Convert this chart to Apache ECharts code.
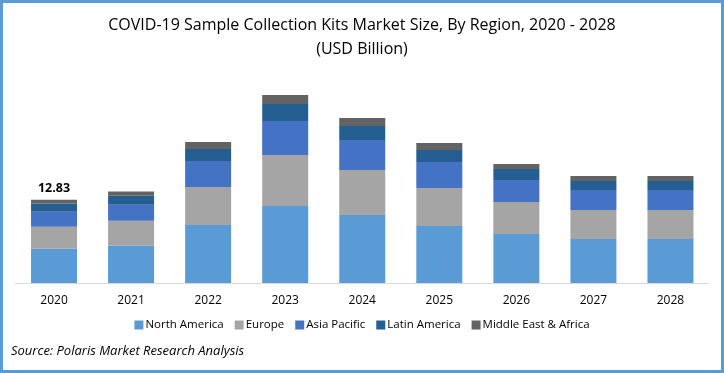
<!DOCTYPE html>
<html><head><meta charset="utf-8">
<script src="https://cdn.jsdelivr.net/npm/echarts@6/dist/echarts.min.js"></script>
<style>
html,body{margin:0;padding:0;background:#fff;}
#wrap{position:absolute;left:0;top:0;width:724px;height:373px;box-sizing:border-box;border:3px solid #5B9BD5;}
#c{position:absolute;left:0;top:0;width:724px;height:373px;}
</style></head>
<body><div id="c"></div><div id="wrap"></div>
<script>
const categories = ['2020','2021','2022','2023','2024','2025','2026','2027','2028'];
const northAmerica = [5.28, 5.75, 8.94, 11.86, 10.48, 8.78, 7.55, 6.78, 6.78];
const europe       = [3.39, 3.85, 5.86, 7.86, 6.93, 5.86, 4.93, 4.47, 4.47];
const asiaPacific  = [2.31, 2.47, 4.01, 5.24, 4.62, 4.01, 3.39, 3.08, 3.08];
const latinAmerica = [1.28, 1.39, 1.85, 2.62, 2.16, 1.85, 1.69, 1.39, 1.39];
const middleEast   = [0.57, 0.62, 1.08, 1.39, 1.23, 1.08, 0.77, 0.77, 0.77];
const totalLabel = '12.83';

const font = '"Open Sans", sans-serif';
const names = ['North America','Europe','Asia Pacific','Latin America','Middle East & Africa'];
const colors = ['#5B9BD5','#A5A5A5','#4472C4','#255E91','#636363'];
const datas = [northAmerica, europe, asiaPacific, latinAmerica, middleEast];

const series = datas.map((d, i) => ({
  name: names[i], type: 'bar', stack: 'total', barWidth: 46,
  itemStyle: { color: colors[i] },
  data: d.map((v, j) => (i === 4 && j === 0) ? {
    value: v,
    label: { show: true, position: 'top', formatter: totalLabel, fontSize: 12.5, fontWeight: 'bold', color: '#000', fontFamily: font, distance: 5 }
  } : v)
}));

const chart = echarts.init(document.getElementById('c'), null, { renderer: 'canvas' });
chart.setOption({
  animation: false,
  title: {
    text: 'COVID-19 Sample Collection Kits Market Size, By Region, 2020 - 2028\n(USD Billion)',
    left: 'center', top: 8,
    textStyle: { fontFamily: font, fontSize: 16, fontWeight: 'normal', color: '#000', lineHeight: 24 }
  },
  legend: {
    data: names, bottom: 37, left: 'center', itemWidth: 9, itemHeight: 9, itemGap: 11, icon: 'rect',
    textStyle: { fontFamily: font, fontSize: 11.5, color: '#000', padding: [0, 0, 0, -3] }
  },
  grid: { left: 15.5, right: 15, top: 88.3, bottom: 90 },
  xAxis: {
    type: 'category', data: categories,
    axisLine: { lineStyle: { color: '#D9D9D9', width: 1 } },
    axisTick: { show: false },
    axisLabel: { fontFamily: font, fontSize: 12, color: '#000', margin: 12 }
  },
  yAxis: { type: 'value', min: 0, max: 30, show: false, splitLine: { show: false } },
  graphic: [{
    type: 'text', left: 11, top: 345,
    style: { text: 'Source: Polaris Market Research Analysis', fontFamily: font, fontSize: 13, fontStyle: 'italic', fill: '#000' }
  }],
  series: series
});
</script></body></html>
